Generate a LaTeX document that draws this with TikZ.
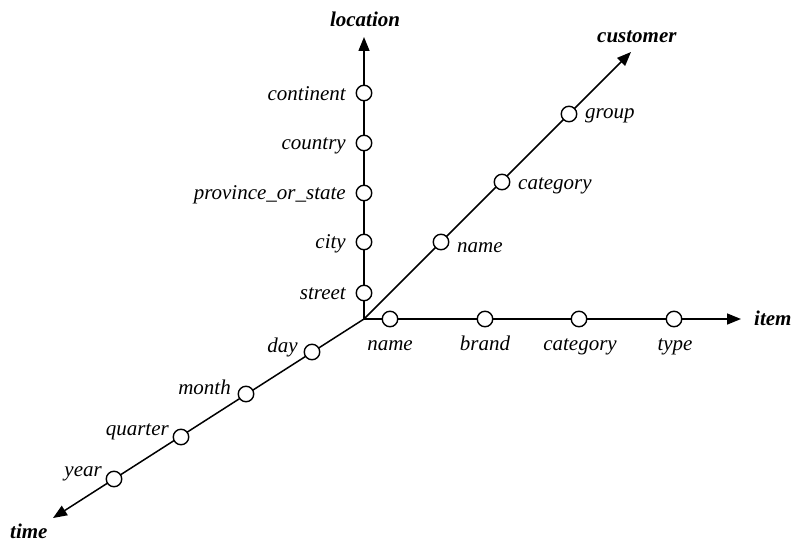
\documentclass[tikz,border=0pt]{standalone}
\usepackage{fontspec}
\setmainfont{Liberation Serif}
\usetikzlibrary{arrows.meta}
\begin{document}
\begin{tikzpicture}[x=1pt,y=-1pt,
  every node/.style={font=\fontsize{21}{25}\selectfont\itshape},
  axis/.style={line width=1.5pt,-{Triangle[length=14pt,width=11pt]}},
  lvl/.style={circle,draw,line width=1.4pt,fill=white,minimum size=15.5pt,inner sep=0pt},
  dimlab/.style={font=\fontsize{21}{25}\selectfont\bfseries\itshape,inner sep=0pt},
  lab/.style={inner sep=0pt}]
\useasboundingbox (0,0) rectangle (794,543);
\coordinate (O) at (364,319);
\coordinate (locTip) at (364,37);
\coordinate (cusTip) at (631,52);
\coordinate (itmTip) at (741,319);
\coordinate (timTip) at (53,518);
\draw[axis] (O) -- (locTip);
\draw[axis] (O) -- (cusTip);
\draw[axis] (O) -- (itmTip);
\draw[axis] (O) -- (timTip);
% location
\node[lvl] (continent) at (364,93) {};
\node[lvl] (country) at (364,143) {};
\node[lvl] (province) at (364,193) {};
\node[lvl] (city) at (364,242) {};
\node[lvl] (street) at (364,293) {};
\node[lab,anchor=base east] (lcontinent) at (346,100) {continent};
\node[lab,anchor=base east] (lcountry) at (346,149) {country};
\node[lab,anchor=base east] (lprovince) at (346,199) {province\_or\_state};
\node[lab,anchor=base east] (lcity) at (346,248) {city};
\node[lab,anchor=base east] (lstreet) at (346,299) {street};
\node[dimlab,anchor=base] (llocation) at (365,27) {location};
% customer
\node[lvl] (cname) at (441,242) {};
\node[lvl] (ccategory) at (502,182) {};
\node[lvl] (cgroup) at (569,114) {};
\node[lab,anchor=base west] (lcname) at (457,252) {name};
\node[lab,anchor=base west] (lccategory) at (518,189) {category};
\node[lab,anchor=base west] (lcgroup) at (585,118) {group};
\node[dimlab,anchor=base west] (lcustomer) at (597,42) {customer};
% item
\node[lvl] (iname) at (390,319) {};
\node[lvl] (ibrand) at (485,319) {};
\node[lvl] (icategory) at (579,319) {};
\node[lvl] (itype) at (674,319) {};
\node[lab,anchor=base] (liname) at (390,350) {name};
\node[lab,anchor=base] (librand) at (485,350) {brand};
\node[lab,anchor=base] (licategory) at (580,350) {category};
\node[lab,anchor=base] (litype) at (675,350) {type};
\node[dimlab,anchor=base west] (litem) at (754,325) {item};
% time
\node[lvl] (tday) at (312,352) {};
\node[lvl] (tmonth) at (246,394) {};
\node[lvl] (tquarter) at (181,437) {};
\node[lvl] (tyear) at (114,479) {};
\node[lab,anchor=base east] (lday) at (298,352) {day};
\node[lab,anchor=base east] (lmonth) at (231,394) {month};
\node[lab,anchor=base east] (lquarter) at (169,435) {quarter};
\node[lab,anchor=base east] (lyear) at (102,476) {year};
\node[dimlab,anchor=base west] (ltime) at (10,538) {time};
\end{tikzpicture}
\end{document}
